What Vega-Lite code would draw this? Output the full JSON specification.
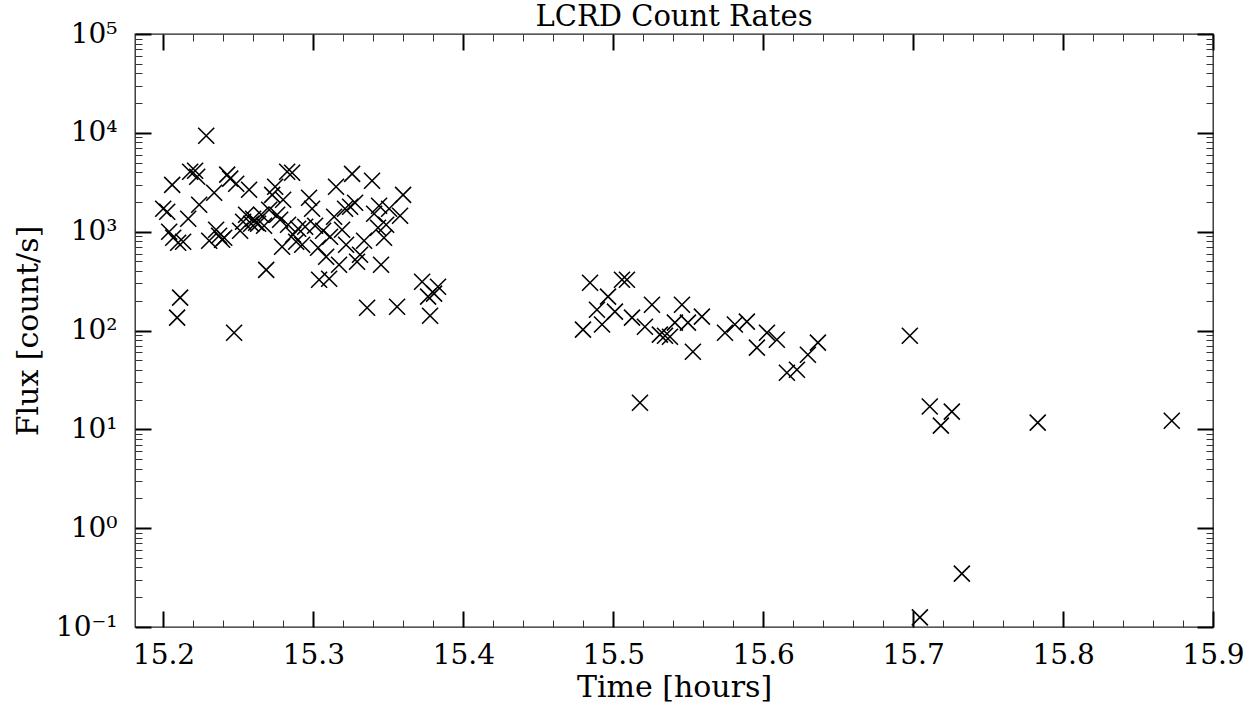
{
  "$schema": "https://vega.github.io/schema/vega-lite/v6.json",
  "width": 1078,
  "height": 593,
  "autosize": {"type": "none"},
  "padding": {"left": 135, "top": 34, "right": 46, "bottom": 83},
  "background": "white",
  "config": {
    "view": {"stroke": "#222", "strokeWidth": 1.3},
    "axis": {"grid": false, "domain": false, "tickColor": "black", "labelFont": "DejaVu Serif", "titleFont": "DejaVu Serif", "labelColor": "black", "titleColor": "black", "titleFontWeight": "normal", "labelFontSize": 28, "titleFontSize": 30}
  },
  "title": {"text": "LCRD Count Rates", "font": "DejaVu Serif", "fontSize": 29, "fontWeight": "normal", "color": "black", "offset": -12},
  "data": {"values": [
    {"t":15.1998,"flux":1706},{"t":15.2025,"flux":1589},{"t":15.2058,"flux":2979},{"t":15.2038,"flux":998},{"t":15.2065,"flux":868},{"t":15.2098,"flux":773},{"t":15.2111,"flux":215},{"t":15.2091,"flux":135},{"t":15.2131,"flux":791},{"t":15.2165,"flux":1352},{"t":15.2178,"flux":4036},{"t":15.2211,"flux":4136},{"t":15.2225,"flux":3597},{"t":15.2238,"flux":1871},{"t":15.2285,"flux":9355},{"t":15.2305,"flux":810},{"t":15.2338,"flux":2473},{"t":15.2351,"flux":1046},{"t":15.2371,"flux":909},{"t":15.2391,"flux":828},{"t":15.2405,"flux":868},{"t":15.2425,"flux":3773},{"t":15.2445,"flux":3436},{"t":15.2485,"flux":3054},{"t":15.2471,"flux":95},{"t":15.2511,"flux":1021},{"t":15.2531,"flux":1260},{"t":15.2551,"flux":1483},{"t":15.2571,"flux":2655},{"t":15.2585,"flux":1202},{"t":15.2598,"flux":1352},{"t":15.2618,"flux":1231},{"t":15.2631,"flux":1202},{"t":15.2651,"flux":1483},{"t":15.2671,"flux":1148},{"t":15.2685,"flux":411},{"t":15.2705,"flux":1667},{"t":15.2725,"flux":2360},{"t":15.2745,"flux":2844},{"t":15.2758,"flux":1483},{"t":15.2778,"flux":1319},{"t":15.2791,"flux":703},{"t":15.2798,"flux":2103},{"t":15.2825,"flux":4036},{"t":15.2858,"flux":3944},{"t":15.2831,"flux":1175},{"t":15.2865,"flux":930},{"t":15.2885,"flux":791},{"t":15.2898,"flux":1069},{"t":15.2925,"flux":737},{"t":15.2945,"flux":1121},{"t":15.2971,"flux":2202},{"t":15.2991,"flux":1706},{"t":15.3011,"flux":1148},{"t":15.3031,"flux":687},{"t":15.3038,"flux":326},{"t":15.3065,"flux":1021},{"t":15.3085,"flux":557},{"t":15.3105,"flux":334},{"t":15.3111,"flux":888},{"t":15.3138,"flux":1415},{"t":15.3151,"flux":2844},{"t":15.3171,"flux":463},{"t":15.3191,"flux":1046},{"t":15.3211,"flux":1706},{"t":15.3218,"flux":737},{"t":15.3245,"flux":1786},{"t":15.3258,"flux":3849},{"t":15.3278,"flux":1960},{"t":15.3291,"flux":496},{"t":15.3311,"flux":584},{"t":15.3338,"flux":810},{"t":15.3358,"flux":170},{"t":15.3391,"flux":3272},{"t":15.3405,"flux":1517},{"t":15.3431,"flux":1095},{"t":15.3438,"flux":1828},{"t":15.3451,"flux":463},{"t":15.3471,"flux":868},{"t":15.3485,"flux":1175},{"t":15.3505,"flux":1706},{"t":15.3558,"flux":174},{"t":15.3578,"flux":1449},{"t":15.3598,"flux":2360},{"t":15.3725,"flux":311},{"t":15.3765,"flux":220},{"t":15.3778,"flux":141},{"t":15.3805,"flux":236},{"t":15.3831,"flux":277},
    {"t":15.4798,"flux":102},{"t":15.4845,"flux":304},{"t":15.4891,"flux":162},{"t":15.4925,"flux":115},{"t":15.4965,"flux":220},{"t":15.5011,"flux":155},{"t":15.5058,"flux":326},{"t":15.5091,"flux":326},{"t":15.5125,"flux":135},{"t":15.5178,"flux":18.6},{"t":15.5211,"flux":109},{"t":15.5258,"flux":182},{"t":15.5311,"flux":90.7},{"t":15.5345,"flux":88.6},{"t":15.5378,"flux":86.5},{"t":15.5411,"flux":120},{"t":15.5458,"flux":182},{"t":15.5498,"flux":120},{"t":15.5531,"flux":61},{"t":15.5591,"flux":138},{"t":15.5745,"flux":95},{"t":15.5811,"flux":115},{"t":15.5891,"flux":123},{"t":15.6025,"flux":95},{"t":15.5958,"flux":67},{"t":15.6091,"flux":80.7},{"t":15.6158,"flux":37.4},{"t":15.6225,"flux":40.1},{"t":15.6298,"flux":56.9},{"t":15.6365,"flux":75.3},
    {"t":15.6978,"flux":88.6},{"t":15.7111,"flux":17.0},{"t":15.7185,"flux":10.9},{"t":15.7258,"flux":15.1},{"t":15.7831,"flux":11.7},{"t":15.8725,"flux":12.2},{"t":15.7325,"flux":0.347},{"t":15.7045,"flux":0.125}
  ]},
  "resolve": {"axis": {"x": "independent", "y": "independent"}},
  "layer": [
    {
      "mark": {"type": "point", "shape": "M-1,-1L1,1M-1,1L1,-1", "filled": false, "stroke": "black", "strokeWidth": 1.6, "size": 256, "opacity": 1},
      "encoding": {
        "x": {"field": "t", "type": "quantitative", "scale": {"domain": [15.181, 15.9], "nice": false, "zero": false},
              "axis": {"orient": "bottom", "title": "Time [hours]", "values": [15.2,15.3,15.4,15.5,15.6,15.7,15.8,15.9], "format": ".1f", "tickSize": -16, "tickWidth": 2, "labelPadding": 30, "titlePadding": 3, "labelFlush": false}},
        "y": {"field": "flux", "type": "quantitative", "scale": {"type": "log", "domain": [0.1, 100000], "nice": false},
              "axis": {"orient": "left", "title": "Flux [count/s]", "values": [0.1,1,10,100,1000,10000,100000], "tickSize": -16, "tickWidth": 2, "labelPadding": 34, "titlePadding": 12, "labelFlush": false,
                       "labelExpr": "'10' + (datum.value < 0.5 ? '⁻¹' : datum.value < 5 ? '⁰' : datum.value < 50 ? '¹' : datum.value < 500 ? '²' : datum.value < 5000 ? '³' : datum.value < 50000 ? '⁴' : '⁵')"}}
      }
    },
    {
      "mark": {"type": "point", "opacity": 0},
      "encoding": {
        "x": {"field": "t", "type": "quantitative", "axis": {"orient": "top", "title": null, "labels": false, "values": [15.2,15.3,15.4,15.5,15.6,15.7,15.8,15.9], "tickSize": -16, "tickWidth": 2}},
        "y": {"field": "flux", "type": "quantitative", "axis": {"orient": "right", "title": null, "labels": false, "values": [0.1,1,10,100,1000,10000,100000], "tickSize": -16, "tickWidth": 2}}
      }
    },
    {
      "mark": {"type": "point", "opacity": 0},
      "encoding": {
        "x": {"field": "t", "type": "quantitative", "axis": {"orient": "bottom", "title": null, "labels": false, "values": [15.22,15.24,15.26,15.28,15.32,15.34,15.36,15.38,15.42,15.44,15.46,15.48,15.52,15.54,15.56,15.58,15.62,15.64,15.66,15.68,15.72,15.74,15.76,15.78,15.82,15.84,15.86,15.88], "tickSize": -7, "tickWidth": 1, "tickColor": "#333"}},
        "y": {"field": "flux", "type": "quantitative", "axis": {"orient": "left", "title": null, "labels": false, "values": [0.2,0.3,0.4,0.5,0.6,0.7,0.8,0.9,2,3,4,5,6,7,8,9,20,30,40,50,60,70,80,90,200,300,400,500,600,700,800,900,2000,3000,4000,5000,6000,7000,8000,9000,20000,30000,40000,50000,60000,70000,80000,90000], "tickSize": -7, "tickWidth": 1, "tickColor": "#333"}}
      }
    },
    {
      "mark": {"type": "point", "opacity": 0},
      "encoding": {
        "x": {"field": "t", "type": "quantitative", "axis": {"orient": "top", "title": null, "labels": false, "values": [15.22,15.24,15.26,15.28,15.32,15.34,15.36,15.38,15.42,15.44,15.46,15.48,15.52,15.54,15.56,15.58,15.62,15.64,15.66,15.68,15.72,15.74,15.76,15.78,15.82,15.84,15.86,15.88], "tickSize": -7, "tickWidth": 1, "tickColor": "#333"}},
        "y": {"field": "flux", "type": "quantitative", "axis": {"orient": "right", "title": null, "labels": false, "values": [0.2,0.3,0.4,0.5,0.6,0.7,0.8,0.9,2,3,4,5,6,7,8,9,20,30,40,50,60,70,80,90,200,300,400,500,600,700,800,900,2000,3000,4000,5000,6000,7000,8000,9000,20000,30000,40000,50000,60000,70000,80000,90000], "tickSize": -7, "tickWidth": 1, "tickColor": "#333"}}
      }
    }
  ]
}
